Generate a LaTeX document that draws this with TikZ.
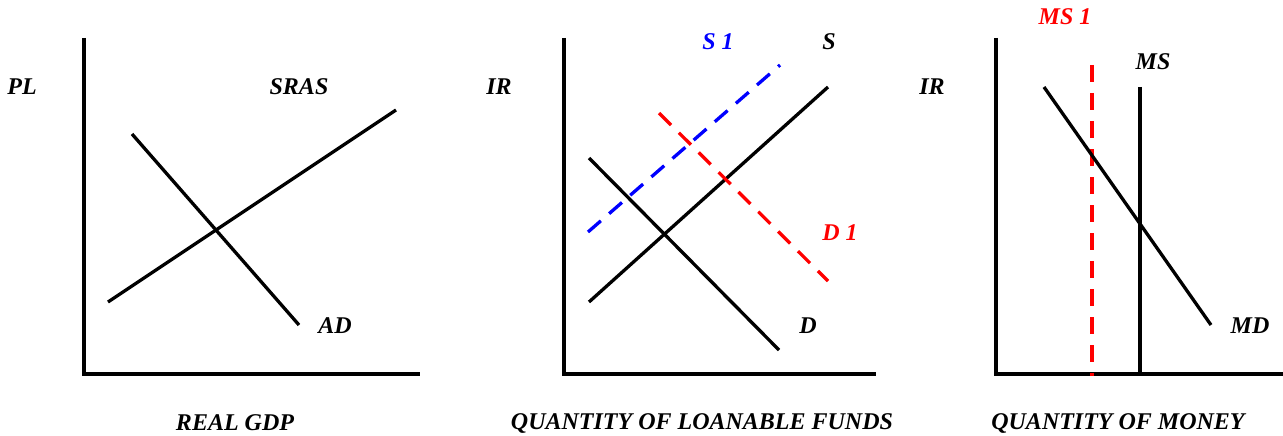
\documentclass[tikz,border=0pt]{standalone}
\usepackage{fontspec}
\setmainfont{Liberation Serif}
\begin{document}
\begin{tikzpicture}[x=1pt,y=-1pt,
  axis/.style={line width=3.8pt},
  curve/.style={line width=3.3pt},
  dsh/.style={line width=3.3pt,dash pattern=on 17pt off 11pt},
  lbl/.style={font=\fontsize{24}{28}\selectfont\bfseries\itshape,inner sep=0pt}]
\useasboundingbox (0,0) rectangle (1283,436);
% ---- Panel 1
\coordinate (a1t) at (84,38); \coordinate (a1o) at (84,374); \coordinate (a1r) at (420,374);
\draw[axis] (a1t) -- (a1o) -- (a1r);
\coordinate (sras1) at (108,302); \coordinate (sras2) at (396,110);
\coordinate (ad1) at (132,134); \coordinate (ad2) at (299,325);
\draw[curve] (sras1) -- (sras2);
\draw[curve] (ad1) -- (ad2);
\node[lbl] (pl) at (22,87) {PL};
\node[lbl] (sras) at (299,87) {SRAS};
\node[lbl] (ad) at (335,326) {AD};
\node[lbl] (rgdp) at (235,423) {REAL GDP};
% ---- Panel 2
\coordinate (a2t) at (564,38); \coordinate (a2o) at (564,374); \coordinate (a2r) at (876,374);
\draw[axis] (a2t) -- (a2o) -- (a2r);
\coordinate (s1a) at (589,302); \coordinate (s1b) at (828,87);
\coordinate (d1a) at (589,158); \coordinate (d1b) at (779,350);
\coordinate (sb1) at (588,232); \coordinate (sb2) at (780,65);
\coordinate (dr1) at (659,113); \coordinate (dr2) at (828,281);
\draw[curve] (s1a) -- (s1b);
\draw[curve] (d1a) -- (d1b);
\draw[dsh,blue] (sb1) -- (sb2);
\draw[dsh,red] (dr1) -- (dr2);
\node[lbl] (ir2) at (499,87) {IR};
\node[lbl,blue] (s1lab) at (718,42) {S 1};
\node[lbl] (slab) at (829,42) {S};
\node[lbl,red] (d1lab) at (840,233) {D 1};
\node[lbl] (dlab) at (808,326) {D};
\node[lbl] (qlf) at (702,423) {QUANTITY OF LOANABLE FUNDS};
% ---- Panel 3
\coordinate (a3t) at (996,38); \coordinate (a3o) at (996,374); \coordinate (a3r) at (1283,374);
\draw[axis] (a3t) -- (a3o) -- (a3r);
\coordinate (ms1) at (1140,87); \coordinate (ms2) at (1140,374);
\coordinate (msr1) at (1092,65); \coordinate (msr2) at (1092,376);
\coordinate (md1) at (1044,87); \coordinate (md2) at (1211,325);
\draw[curve] (ms1) -- (ms2);
\draw[dsh,red] (msr1) -- (msr2);
\draw[curve] (md1) -- (md2);
\node[lbl] (ir3) at (932,87) {IR};
\node[lbl] (mslab) at (1153,62) {MS};
\node[lbl,red] (ms1lab) at (1065,17) {MS 1};
\node[lbl] (mdlab) at (1250,326) {MD};
\node[lbl] (qm) at (1118,423) {QUANTITY OF MONEY};
\end{tikzpicture}
\end{document}
